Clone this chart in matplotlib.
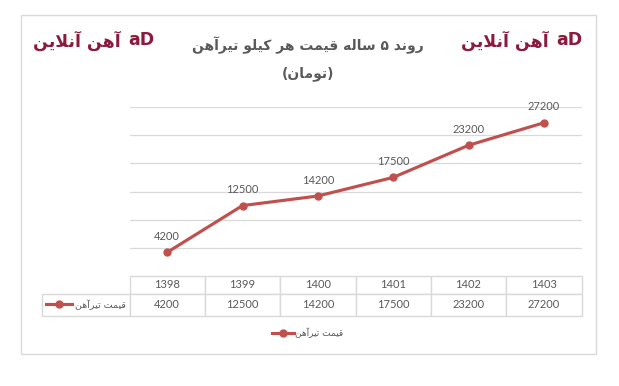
import matplotlib
matplotlib.use("Agg")
import matplotlib.pyplot as plt
from matplotlib.table import Table
from matplotlib.lines import Line2D
from matplotlib.patches import Rectangle

# data
years = ['1398', '1399', '1400', '1401', '1402', '1403']
prices = [4200, 12500, 14200, 17500, 23200, 27200]
series_name = 'قیمت تیرآهن'
title_1 = 'روند ۵ ساله قیمت هر کیلو تیرآهن'
title_2 = '(تومان)'
logo_text = 'آهن آنلاین'

# colours
RED = '#C0504D'
GRID = '#D9D9D9'
TXT = '#595959'
LOGO = '#8B1A3F'

plt.rcParams['font.family'] = ['Lato', 'DejaVu Sans']

# simple arabic/persian shaping (matplotlib does no bidi / joining)
FORMS = {
    '\u0622': ('\uFE81', '\uFE82', None, None),
    '\u0627': ('\uFE8D', '\uFE8E', None, None),
    '\u062A': ('\uFE95', '\uFE96', '\uFE97', '\uFE98'),
    '\u062F': ('\uFEA9', '\uFEAA', None, None),
    '\u0631': ('\uFEAD', '\uFEAE', None, None),
    '\u0633': ('\uFEB1', '\uFEB2', '\uFEB3', '\uFEB4'),
    '\u0642': ('\uFED5', '\uFED6', '\uFED7', '\uFED8'),
    '\u06A9': ('\uFED9', '\uFEDA', '\uFEDB', '\uFEDC'),
    '\u0644': ('\uFEDD', '\uFEDE', '\uFEDF', '\uFEE0'),
    '\u0645': ('\uFEE1', '\uFEE2', '\uFEE3', '\uFEE4'),
    '\u0646': ('\uFEE5', '\uFEE6', '\uFEE7', '\uFEE8'),
    '\u0647': ('\uFEE9', '\uFEEA', '\uFEEB', '\uFEEC'),
    '\u0648': ('\uFEED', '\uFEEE', None, None),
    '\u06CC': ('\uFEEF', '\uFEF0', '\uFEF3', '\uFEF4'),
}
LAM_ALEF = {'\u0627': ('\uFEFB', '\uFEFC'), '\u0622': ('\uFEF5', '\uFEF6')}


def shape(s):
    out = []
    i = 0
    n = len(s)
    while i < n:
        c = s[i]
        prev = s[i - 1] if i > 0 else ''
        prev_join = prev in FORMS and FORMS[prev][2] is not None
        if c == '\u0644' and i + 1 < n and s[i + 1] in LAM_ALEF:
            out.append(LAM_ALEF[s[i + 1]][1 if prev_join else 0])
            i += 2
            continue
        if c not in FORMS:
            out.append(c)
            i += 1
            continue
        nxt = s[i + 1] if i + 1 < n else ''
        f = FORMS[c]
        next_join = nxt in FORMS and f[2] is not None
        if prev_join and next_join:
            out.append(f[3])
        elif prev_join:
            out.append(f[1])
        elif next_join:
            out.append(f[2])
        else:
            out.append(f[0])
        i += 1
    res = ''.join(out)[::-1]
    res = res.translate(str.maketrans('()', ')('))
    return res


W, H = 619, 386
fig = plt.figure(figsize=(W / 100, H / 100), dpi=100)

# outer frame
fig.patches.append(Rectangle((21 / W, 1 - 354 / H), 575 / W, 339 / H, transform=fig.transFigure,
                             fill=False, edgecolor=GRID, linewidth=1))

left, right, top, bottom = 129.5, 581.5, 107, 276
ax = fig.add_axes([left / W, 1 - bottom / H, (right - left) / W, (bottom - top) / H])
x = list(range(len(years)))
ax.plot(x, prices, color=RED, linewidth=2.25, marker='o', markersize=5, zorder=3)
for xi, v in zip(x, prices):
    ax.annotate(str(v), (xi, v), xytext=(0, 11.5), textcoords='offset points',
                ha='center', va='center', fontsize=8, color=TXT)

ax.set_xlim(-0.5, len(years) - 0.5)
ax.set_ylim(0, 30000)
ax.set_yticks(range(5000, 30001, 5000))
ax.yaxis.grid(True, color=GRID, linewidth=0.9)
ax.set_axisbelow(True)
ax.set_xticks([])
ax.tick_params(left=False, labelleft=False)
for sp in ax.spines.values():
    sp.set_visible(False)

# data table under the plot (bbox covers the data cells only)
lab_w = (left - 42) / (right - left)
row_h = 40 / (bottom - top)
tab = Table(ax, bbox=[0, -row_h, 1, row_h])
cw = 1 / len(years)
for j, yr in enumerate(years):
    c = tab.add_cell(0, j, cw, 18, text=yr, loc='center')
    c.set_edgecolor(GRID)
    c.get_text().set_color(TXT)
    c = tab.add_cell(1, j, cw, 22, text=str(prices[j]), loc='center')
    c.set_edgecolor(GRID)
    c.get_text().set_color(TXT)
lab = tab.add_cell(1, -1, lab_w, 22, text=shape(series_name), loc='right')
lab.set_edgecolor(GRID)
lab.PAD = 0.04
tab.auto_set_font_size(False)
tab.set_fontsize(8)
lab.get_text().set_color(TXT)
lab.get_text().set_family(['DejaVu Sans'])
lab.get_text().set_fontsize(6.8)
ax.add_table(tab)

# legend key inside the table label cell
fig.add_artist(Line2D([46 / W, 72 / W], [1 - 304 / H] * 2, transform=fig.transFigure,
                      color=RED, linewidth=2.25, zorder=5))
fig.add_artist(Line2D([59 / W], [1 - 304 / H], transform=fig.transFigure,
                      color=RED, marker='o', markersize=5, zorder=5))

# bottom legend
handle = Line2D([], [], color=RED, linewidth=2.25, marker='o', markersize=5)
leg = fig.legend([handle], [shape(series_name)], loc='center', bbox_to_anchor=(308 / W, 1 - 333 / H),
                 frameon=False, handlelength=2.4, handletextpad=0.15,
                 prop={'family': 'DejaVu Sans', 'size': 6.5})
leg.get_texts()[0].set_color(TXT)

# title
fig.text(308 / W, 1 - 45 / H, shape(title_1), ha='center', va='center', fontsize=10,
         fontweight='bold', color=TXT, family=['DejaVu Sans'])
fig.text(308 / W, 1 - 74 / H, shape(title_2), ha='center', va='center', fontsize=10,
         fontweight='bold', color=TXT, family=['DejaVu Sans'])

# logos
for lx in (33, 461):
    fig.text(lx / W, 1 - 41 / H, shape(logo_text), ha='left', va='center', fontsize=12.5,
             fontweight='bold', color=LOGO, family=['DejaVu Sans'])
    fig.text((lx + 95) / W, 1 - 40 / H, 'aD', ha='left', va='center', fontsize=12.5,
             fontweight='bold', color=LOGO, family=['DejaVu Sans'])

fig.savefig('out.png', dpi=100)
